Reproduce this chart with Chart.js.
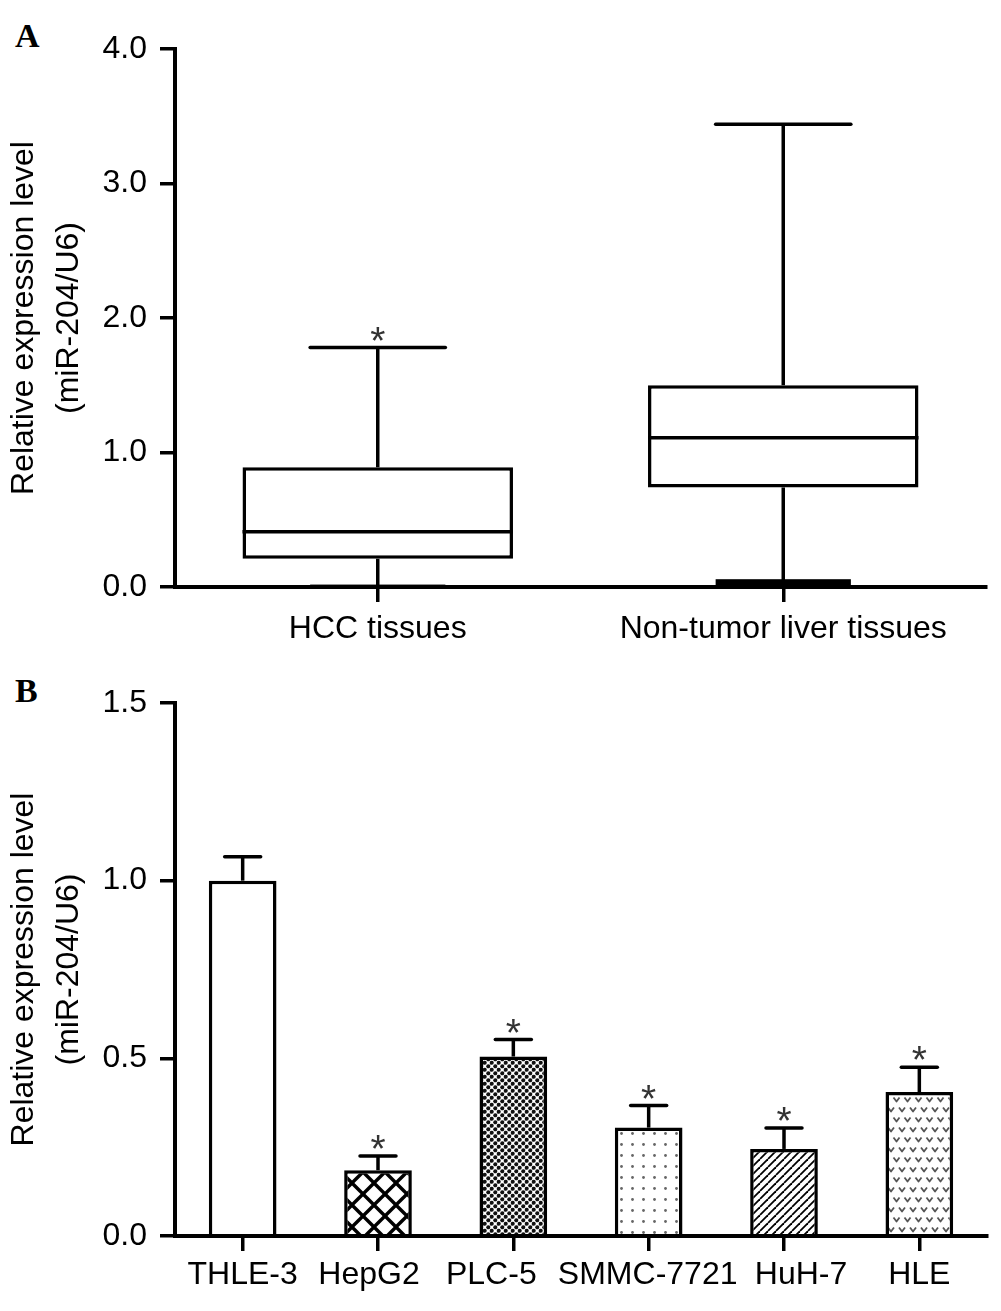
<!DOCTYPE html>
<html><head><meta charset="utf-8">
<script src="https://cdn.jsdelivr.net/npm/chart.js@4"></script>
<style>
html,body{margin:0;padding:0;background:#fff;}
body{width:1001px;height:1311px;position:relative;overflow:hidden;}
canvas{position:absolute;left:0;}
.lbl{position:absolute;font-family:'Liberation Serif','Times New Roman',serif;font-weight:bold;font-size:34px;color:#000;line-height:1;}
</style></head><body>
<div class="lbl" style="left:15px;top:19px">A</div>
<div class="lbl" style="left:15px;top:674px">B</div>
<canvas id="cA" width="1001" height="655" style="top:0"></canvas>
<canvas id="cB" width="1001" height="656" style="top:655px"></canvas>
<script>
// ---------- Panel A data (box plot) ----------
const groups = ['HCC tissues', 'Non-tumor liver tissues'];
const boxMin = [0.005, 0.045];
const boxQ1 = [0.21, 0.74];
const boxMedian = [0.41, 1.11];
const boxQ3 = [0.89, 1.50];
const boxMax = [1.78, 3.44];
const boxSignificant = [true, false];
const tickValuesA = [0, 1, 2, 3, 4];
const tickLabelsA = ['0.0', '1.0', '2.0', '3.0', '4.0'];

// ---------- Panel B data (bar chart) ----------
const cellLines = ['THLE-3', 'HepG2', 'PLC-5', 'SMMC-7721', 'HuH-7', 'HLE'];
const means = [1.00, 0.185, 0.505, 0.305, 0.245, 0.405];
const sems = [0.067, 0.04, 0.048, 0.062, 0.059, 0.07];
const cellSignificant = [false, true, true, true, true, true];
const tickValuesB = [0, 0.5, 1.0, 1.5];
const tickLabelsB = ['0.0', '0.5', '1.0', '1.5'];

const yTitle = ['Relative expression level', '(miR-204/U6)'];

// style: horizontal nudge of the category labels of panel B (px), as in the original figure
const labelNudgeB = [0, -9, -22, -1, 17, 0];

const FONT = '"Liberation Sans", Arial, Helvetica, sans-serif';
Chart.defaults.font.family = FONT;
Chart.defaults.color = '#000';

// ---------- fill patterns ----------
function makePattern(kind) {
  const c = document.createElement('canvas');
  let w = 10, h = 10;
  if (kind === 'crosshatch') { w = h = 22; }
  else if (kind === 'densedots') { w = h = 7; }
  else if (kind === 'sparsedots') { w = h = 11; }
  else if (kind === 'diagonal') { w = h = 8; }
  else if (kind === 'chevrons') { w = 11; h = 20; }
  c.width = w; c.height = h;
  const g = c.getContext('2d');
  g.fillStyle = '#fff'; g.fillRect(0, 0, w, h);
  if (kind === 'crosshatch') {
    g.strokeStyle = '#000'; g.lineWidth = 3.4;
    for (const k of [-22, 0, 22]) {
      g.beginPath(); g.moveTo(0, k); g.lineTo(22, 22 + k); g.stroke();
      g.beginPath(); g.moveTo(0, 22 + k); g.lineTo(22, k); g.stroke();
    }
  } else if (kind === 'densedots') {
    g.fillStyle = '#111';
    for (const [x, y] of [[1.75, 1.75], [5.25, 5.25], [5.25 - 7, 5.25], [5.25, 5.25 - 7], [5.25 - 7, 5.25 - 7], [1.75 + 7, 1.75], [1.75, 1.75 + 7], [1.75 + 7, 1.75 + 7]]) {
      g.beginPath(); g.arc(x, y, 2.0, 0, Math.PI * 2); g.fill();
    }
  } else if (kind === 'sparsedots') {
    g.fillStyle = '#666';
    g.beginPath(); g.arc(5.5, 5.5, 1.4, 0, Math.PI * 2); g.fill();
  } else if (kind === 'diagonal') {
    g.strokeStyle = '#000'; g.lineWidth = 1.8;
    for (const x0 of [-8, 0, 8]) {
      g.beginPath(); g.moveTo(x0, 8); g.lineTo(x0 + 8, 0); g.stroke();
    }
  } else if (kind === 'chevrons') {
    g.strokeStyle = '#555'; g.lineWidth = 1.8; g.lineJoin = 'round';
    const chev = (cx, cy) => { g.beginPath(); g.moveTo(cx - 3, cy - 2.5); g.lineTo(cx, cy + 1.5); g.lineTo(cx + 3, cy - 2.5); g.stroke(); };
    chev(5.5, 5); chev(0, 15); chev(11, 15);
  }
  return g.createPattern(c, 'repeat');
}
const patternKinds = ['none', 'crosshatch', 'densedots', 'sparsedots', 'diagonal', 'chevrons'];
const fills = patternKinds.map(k => k === 'none' ? '#fff' : makePattern(k));

function drawStar(ctx, x, bottomY) {
  ctx.save();
  ctx.font = '100px ' + FONT;
  let m = ctx.measureText('*');
  const hgt = m.actualBoundingBoxAscent + m.actualBoundingBoxDescent;
  const size = 100 * 14 / hgt;
  ctx.font = size + 'px ' + FONT;
  m = ctx.measureText('*');
  ctx.fillStyle = '#333'; ctx.textAlign = 'center'; ctx.textBaseline = 'alphabetic';
  ctx.fillText('*', x, bottomY - m.actualBoundingBoxDescent);
  ctx.restore();
}
function seg(ctx, x1, y1, x2, y2) { ctx.beginPath(); ctx.moveTo(x1, y1); ctx.lineTo(x2, y2); ctx.stroke(); }

const LW = 3.5;

const boxPlugin = {
  id: 'boxWhiskers',
  afterDatasetsDraw(chart) {
    const ctx = chart.ctx, y = chart.scales.y;
    const meta = chart.getDatasetMeta(0);
    ctx.save();
    ctx.strokeStyle = '#000'; ctx.fillStyle = '#000'; ctx.lineWidth = LW;
    meta.data.forEach((el, i) => {
      const x = el.x, w = el.width, cw = w / 2;
      const yQ1 = y.getPixelForValue(boxQ1[i]), yQ3 = y.getPixelForValue(boxQ3[i]);
      const yMed = y.getPixelForValue(boxMedian[i]);
      const yMax = y.getPixelForValue(boxMax[i]), yMin = y.getPixelForValue(boxMin[i]);
      const y0 = y.getPixelForValue(0);
      ctx.lineCap = 'butt';
      seg(ctx, x, yQ3, x, yMax);
      seg(ctx, x, yQ1, x, yMin);
      seg(ctx, x - w / 2, yMed, x + w / 2, yMed);
      ctx.lineCap = 'round';
      seg(ctx, x - cw / 2, yMax, x + cw / 2, yMax);
      ctx.fillRect(x - cw / 2, yMin - LW / 2, cw, Math.max(LW, y0 - yMin + LW / 2));
      if (boxSignificant[i]) drawStar(ctx, x, yMax - LW / 2 - 5);
    });
    ctx.restore();
  }
};

const errPlugin = {
  id: 'errorBars',
  afterDatasetsDraw(chart) {
    const ctx = chart.ctx, y = chart.scales.y;
    const meta = chart.getDatasetMeta(0);
    ctx.save();
    ctx.strokeStyle = '#000'; ctx.lineWidth = LW;
    meta.data.forEach((el, i) => {
      const x = el.x;
      const yTop = y.getPixelForValue(means[i] + sems[i]);
      ctx.lineCap = 'butt';
      seg(ctx, x, el.y, x, yTop);
      ctx.lineCap = 'round';
      seg(ctx, x - 18, yTop, x + 18, yTop);
      if (cellSignificant[i]) drawStar(ctx, x, yTop - LW / 2 - 5);
    });
    ctx.restore();
  }
};

// draws panel B category labels (library's tick pixels + nudge)
const xLabelPlugin = {
  id: 'nudgedLabels',
  afterDraw(chart) {
    const ctx = chart.ctx, xs = chart.scales.x;
    ctx.save();
    ctx.font = '32px ' + FONT;
    ctx.fillStyle = '#000'; ctx.textAlign = 'center'; ctx.textBaseline = 'middle';
    const yy = xs.top + 15 + 5 + 32 * 1.2 / 2;
    cellLines.forEach((lab, i) => {
      ctx.fillText(lab, xs.getPixelForValue(i) + labelNudgeB[i], yy);
    });
    ctx.restore();
  }
};

function axes(tickValues, tickLabels, min, max, xHeight, xPad, hideX) {
  return {
    x: {
      type: 'category',
      offset: true,
      grid: { display: true, drawOnChartArea: false, drawTicks: true, offset: false, tickLength: 15, lineWidth: 3.5, color: '#000' },
      border: { display: true, width: 4, color: '#000', z: 1 },
      ticks: { font: { size: 32 }, color: hideX ? 'rgba(0,0,0,0)' : '#000', padding: xPad, autoSkip: false, maxRotation: 0, minRotation: 0 },
      afterFit(s) { s.height = xHeight; }
    },
    y: {
      min: min, max: max,
      afterBuildTicks(s) { s.ticks = tickValues.map(v => ({ value: v })); },
      grid: { display: true, drawOnChartArea: false, drawTicks: true, tickLength: 15, lineWidth: 3.5, color: '#000' },
      border: { display: true, width: 4, color: '#000' },
      ticks: { font: { size: 32 }, color: '#000', padding: 13, callback: (v, i) => tickLabels[i] },
      title: { display: true, text: yTitle, color: '#000', font: { size: 32, lineHeight: 1.42 }, padding: { top: 1, bottom: 0 } },
      afterFit(s) { s.width = 175; }
    }
  };
}

new Chart(document.getElementById('cA'), {
  type: 'bar',
  data: {
    labels: groups,
    datasets: [{
      data: groups.map((g, i) => [boxQ1[i], boxQ3[i]]),
      backgroundColor: '#fff', borderColor: '#000', borderWidth: LW, borderSkipped: false,
      barPercentage: 0.667, categoryPercentage: 1.0
    }]
  },
  options: {
    responsive: false, animation: false,
    layout: { padding: { left: 0, right: 15, top: 49, bottom: 0 } },
    plugins: { legend: { display: false }, tooltip: { enabled: false } },
    scales: axes(tickValuesA, tickLabelsA, 0, 4, 655 - 587, 8, false)
  },
  plugins: [boxPlugin]
});

new Chart(document.getElementById('cB'), {
  type: 'bar',
  data: {
    labels: cellLines,
    datasets: [{
      data: means,
      backgroundColor: fills, borderColor: '#000', borderWidth: LW, borderSkipped: 'start',
      barPercentage: 0.5, categoryPercentage: 1.0
    }]
  },
  options: {
    responsive: false, animation: false,
    layout: { padding: { left: 0, right: 14, top: 48, bottom: 0 } },
    plugins: { legend: { display: false }, tooltip: { enabled: false } },
    scales: axes(tickValuesB, tickLabelsB, 0, 1.5, 656 - 581, 5, true)
  },
  plugins: [errPlugin, xLabelPlugin]
});
</script>
</body></html>
